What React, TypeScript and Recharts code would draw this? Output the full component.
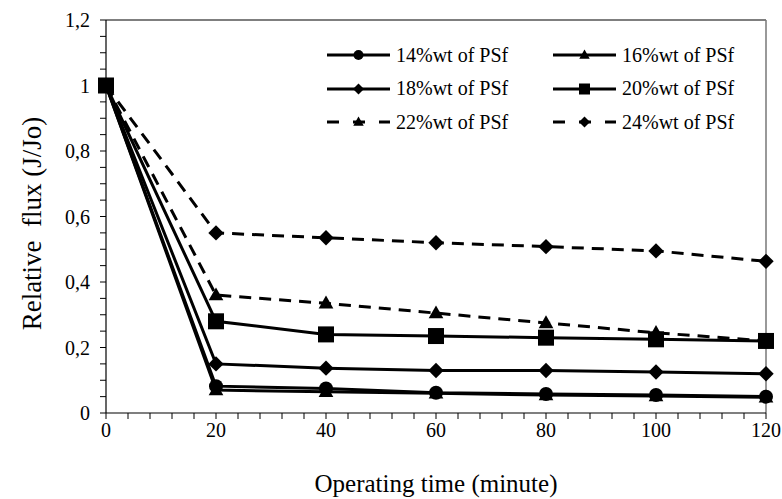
import React from 'react';
import { Legend, Line, LineChart, ReferenceLine, XAxis, YAxis, Label } from 'recharts';

const time = [0, 20, 40, 60, 80, 100, 120];
const psf14 = [1, 0.082, 0.075, 0.062, 0.058, 0.055, 0.05];
const psf16 = [1, 0.07, 0.065, 0.06, 0.055, 0.052, 0.048];
const psf18 = [1, 0.15, 0.137, 0.13, 0.13, 0.125, 0.12];
const psf20 = [1, 0.28, 0.24, 0.235, 0.23, 0.225, 0.22];
const psf22 = [1, 0.36, 0.335, 0.305, 0.275, 0.245, 0.22];
const psf24 = [1, 0.55, 0.535, 0.52, 0.508, 0.495, 0.463];

const xMajorTicks = [0, 20, 40, 60, 80, 100, 120];
const yMajorTicks = [0, 0.2, 0.4, 0.6, 0.8, 1, 1.2];

type Shape = 'circle' | 'triangle' | 'diamond' | 'square';

interface SeriesDef {
  key: string;
  name: string;
  values: number[];
  shape: Shape;
  dashed: boolean;
}

const series: SeriesDef[] = [
  { key: 's14', name: '14%wt of PSf', values: psf14, shape: 'circle', dashed: false },
  { key: 's16', name: '16%wt of PSf', values: psf16, shape: 'triangle', dashed: false },
  { key: 's18', name: '18%wt of PSf', values: psf18, shape: 'diamond', dashed: false },
  { key: 's20', name: '20%wt of PSf', values: psf20, shape: 'square', dashed: false },
  { key: 's22', name: '22%wt of PSf', values: psf22, shape: 'triangle', dashed: true },
  { key: 's24', name: '24%wt of PSf', values: psf24, shape: 'diamond', dashed: true },
];

const rows = time.map((t, i) => {
  const row: Record<string, number> = { t };
  series.forEach((s) => {
    row[s.key] = s.values[i];
  });
  return row;
});

// minor ticks: every 4 minutes on x, every 0.05 on y
const xTicks = Array.from({ length: 31 }, (_, i) => i * 4);
const yTicks = Array.from({ length: 25 }, (_, i) => Math.round(i * 5) / 100);

const FONT = '"Liberation Serif", "Times New Roman", serif';

const isMajor = (v: number, list: number[]) => list.some((m) => Math.abs(m - v) < 1e-6);

const Marker = ({ cx, cy, shape, size }: { cx: number; cy: number; shape: Shape; size: number }) => {
  const h = size / 2;
  switch (shape) {
    case 'circle':
      return <circle cx={cx} cy={cy} r={h} fill="#000" />;
    case 'triangle':
      return (
        <polygon
          points={`${cx},${cy - h * 1.1} ${cx + h * 1.05},${cy + h * 0.75} ${cx - h * 1.05},${cy + h * 0.75}`}
          fill="#000"
        />
      );
    case 'diamond':
      return (
        <polygon
          points={`${cx},${cy - h * 1.1} ${cx + h * 1.1},${cy} ${cx},${cy + h * 1.1} ${cx - h * 1.1},${cy}`}
          fill="#000"
        />
      );
    case 'square':
    default:
      return <rect x={cx - h} y={cy - h} width={size} height={size} fill="#000" />;
  }
};

const XTick = (props: any) => {
  const { x, y, payload } = props;
  if (!isMajor(payload.value, xMajorTicks)) return <g />;
  return (
    <text x={x} y={y} dy="0.71em" textAnchor="middle" fontFamily={FONT} fontSize={20} fill="#000">
      {payload.value}
    </text>
  );
};

const YTick = (props: any) => {
  const { x, y, payload } = props;
  if (!isMajor(payload.value, yMajorTicks)) return <g />;
  return (
    <text x={x} y={y} dy="0.355em" textAnchor="end" fontFamily={FONT} fontSize={20} fill="#000">
      {String(payload.value).replace('.', ',')}
    </text>
  );
};

const LegendContent = () => (
  <div
    style={{
      display: 'grid',
      gridTemplateColumns: '226px 210px',
      rowGap: 7.5,
      fontFamily: FONT,
      fontSize: 20,
      color: '#000',
    }}
  >
    {series.map((s) => (
      <div key={s.key} style={{ display: 'flex', alignItems: 'center', height: 26, whiteSpace: 'nowrap' }}>
        <svg width={66} height={20} style={{ marginRight: 3 }}>
          <line
            x1={0}
            y1={10}
            x2={63}
            y2={10}
            stroke="#000"
            strokeWidth={3}
            strokeDasharray={s.dashed ? '12 14' : undefined}
          />
          <Marker cx={31.5} cy={10} shape={s.shape} size={s.shape === 'square' ? 11 : 10} />
        </svg>
        <span>{s.name}</span>
      </div>
    ))}
  </div>
);

export default function App() {
  return (
    <div style={{ position: 'absolute', left: 0, top: 0, background: '#fff' }}>
      <LineChart width={782} height={499} data={rows} margin={{ top: 20, right: 16, left: 0, bottom: 0 }}>
        <XAxis
          dataKey="t"
          type="number"
          domain={[0, 120]}
          ticks={xTicks}
          interval={0}
          height={86}
          tick={<XTick />}
          tickSize={6}
          tickMargin={4}
          axisLine={{ stroke: '#000', strokeWidth: 1.2 }}
          tickLine={{ stroke: '#000' }}
        >
          <Label
            content={({ viewBox }: any) => (
              <text
                x={viewBox.x + viewBox.width / 2}
                y={viewBox.y + 79}
                textAnchor="middle"
                fontFamily={FONT}
                fontSize={25}
                fill="#000"
              >
                Operating time (minute)
              </text>
            )}
          />
        </XAxis>
        <YAxis
          type="number"
          domain={[0, 1.2]}
          ticks={yTicks}
          interval={0}
          width={106}
          tick={<YTick />}
          tickSize={6}
          tickMargin={10}
          axisLine={{ stroke: '#000', strokeWidth: 1.2 }}
          tickLine={{ stroke: '#000' }}
        >
          <Label
            content={({ viewBox }: any) => {
              const cx = viewBox.x + 32;
              const cy = viewBox.y + viewBox.height / 2 + 7;
              return (
                <text
                  x={cx}
                  y={cy}
                  transform={`rotate(-90 ${cx} ${cy})`}
                  textAnchor="middle"
                  dominantBaseline="central"
                  fontFamily={FONT}
                  fontSize={27}
                  fill="#000"
                  style={{ whiteSpace: 'pre' }}
                >
                  {'Relative  flux (J/Jo)'}
                </text>
              );
            }}
          />
        </YAxis>
        <ReferenceLine y={1.2} stroke="#000" strokeWidth={1.2} />
        <ReferenceLine x={120} stroke="#777" strokeWidth={1.5} />
        <Legend
          layout="horizontal"
          verticalAlign="middle"
          content={<LegendContent />}
          wrapperStyle={{ top: 42, left: 327, width: 450 }}
        />
        {series.map((s) => (
          <Line
            key={s.key}
            dataKey={s.key}
            name={s.name}
            type="linear"
            stroke="#000"
            strokeWidth={3}
            strokeDasharray={s.dashed ? '12 8' : undefined}
            isAnimationActive={false}
            dot={(p: any) => (
              <Marker
                key={`${s.key}-${p.index}`}
                cx={p.cx}
                cy={p.cy}
                shape={s.shape}
                size={s.shape === 'square' ? 16 : 14}
              />
            )}
            activeDot={false}
          />
        ))}
      </LineChart>
    </div>
  );
}
